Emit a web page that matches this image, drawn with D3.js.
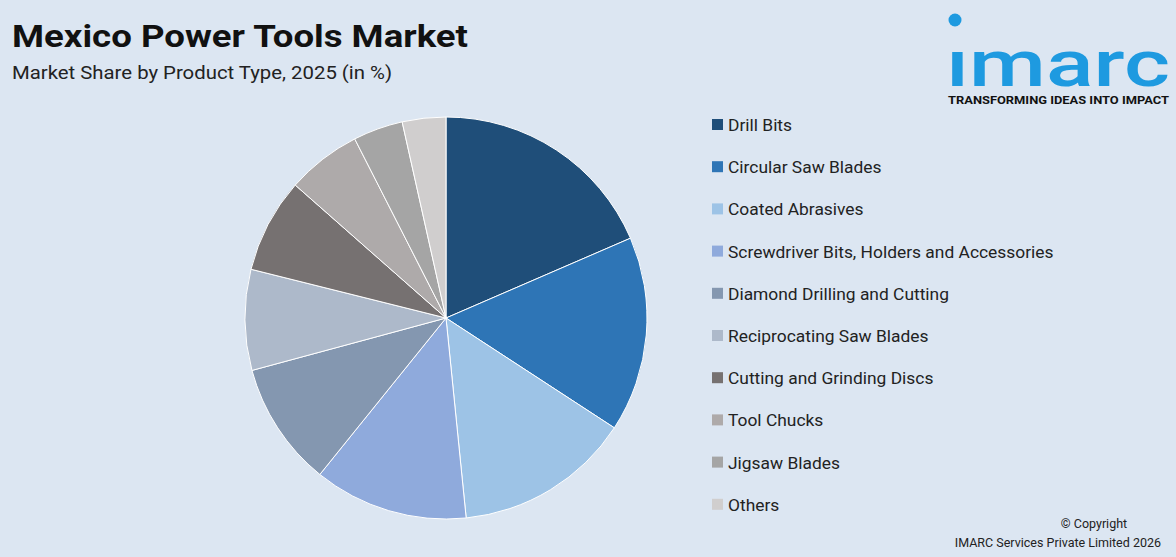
<!DOCTYPE html>
<html><head><meta charset="utf-8">
<script src="https://cdn.jsdelivr.net/npm/d3@7"></script>
<style>body{margin:0;background:#dce6f2;font-family:Roboto,"Open Sans",sans-serif}</style>
</head><body><svg id="c" width="1176" height="557"></svg>
<script>
const categories = ["Drill Bits","Circular Saw Blades","Coated Abrasives","Screwdriver Bits, Holders and Accessories","Diamond Drilling and Cutting","Reciprocating Saw Blades","Cutting and Grinding Discs","Tool Chucks","Jigsaw Blades","Others"];
const shares = [18.5,15.7,14.2,12.4,10.0,8.1,7.6,6.0,4.0,3.5];
const colors = ["#1f4e79","#2e75b6","#9dc3e6","#8faadc","#8497b0","#adb9ca","#767171","#aeaaaa","#a5a5a5","#d0cece"];

const svg = d3.select("#c");
svg.append("rect").attr("width",1176).attr("height",557).attr("fill","#dce6f2");

svg.append("text").attr("x",12).attr("y",47).attr("font-size",32).attr("font-weight",700)
  .attr("fill","#111").attr("textLength",456).attr("lengthAdjust","spacingAndGlyphs").text("Mexico Power Tools Market");
svg.append("text").attr("x",12).attr("y",79).attr("font-size",19).attr("fill","#222")
  .attr("textLength",380).attr("lengthAdjust","spacingAndGlyphs").text("Market Share by Product Type, 2025 (in %)");

// pie
let pie = d3.pie().sort(null).value(d => d);
let arc = d3.arc().innerRadius(0).outerRadius(201);
let g = svg.append("g").attr("transform","translate(446,318)");
g.selectAll("path").data(pie(shares)).join("path")
  .attr("d",arc).attr("fill",(d,i) => colors[i])
  .attr("stroke","#ffffff").attr("stroke-width",1);

// legend
let lg = svg.append("g").attr("transform","translate(712,125)");
categories.forEach(function (c, i) {
  let row = lg.append("g").attr("transform","translate(0," + (i * 42.2) + ")");
  row.append("rect").attr("x",0).attr("y",-6).attr("width",11).attr("height",11).attr("fill",colors[i]);
  row.append("text").attr("x",16).attr("y",6).attr("font-size",17.4).attr("fill","#222").text(c);
});

// logo
svg.append("text").attr("x",946).attr("y",86).attr("font-size",64)
  .attr("font-weight",500).attr("fill","#1e9ae0").attr("textLength",224)
  .attr("lengthAdjust","spacingAndGlyphs").text("ımarc");
svg.append("circle").attr("cx",955).attr("cy",20).attr("r",6.5).attr("fill","#1e9ae0");
svg.append("text").attr("x",948).attr("y",104).attr("font-size",11.5)
  .attr("font-weight",700).attr("fill","#111").attr("textLength",221)
  .attr("lengthAdjust","spacingAndGlyphs").text("TRANSFORMING IDEAS INTO IMPACT");

svg.append("text").attr("x",1094).attr("y",528).attr("text-anchor","middle").attr("font-size",12.5)
  .attr("fill","#222").text("© Copyright");
svg.append("text").attr("x",1161).attr("y",547).attr("text-anchor","end").attr("font-size",12.5)
  .attr("fill","#222").text("IMARC Services Private Limited 2026");
</script></body></html>
